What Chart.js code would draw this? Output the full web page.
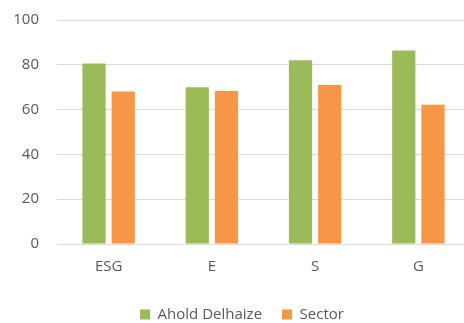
<!DOCTYPE html>
<html>
<head>
<meta charset="utf-8">
<script src="https://cdn.jsdelivr.net/npm/chart.js@4"></script>
<style>
  html, body { margin: 0; padding: 0; background: #fff; overflow: hidden; }
  #wrap { width: 484px; height: 323px; }
</style>
</head>
<body>
<div id="wrap"><canvas id="chart" width="484" height="323"></canvas></div>
<script>
// chart data
let categories = ['ESG', 'E', 'S', 'G'];
let aholdValues = [80.6, 70, 82, 86.4];
let sectorValues = [68.1, 68.3, 71, 62.2];
let seriesNames = ['Ahold Delhaize', 'Sector'];
let yTicks = [0, 20, 40, 60, 80, 100];

let textColor = '#595959';
let fontFamily = '"Open Sans", sans-serif';

let ctx = document.getElementById('chart').getContext('2d');
let chart = new Chart(ctx, {
  type: 'bar',
  data: {
    labels: categories,
    datasets: [{
      label: seriesNames[0],
      data: aholdValues,
      backgroundColor: '#9BBB59',
      categoryPercentage: 0.566,
      barPercentage: 0.795
    }, {
      label: seriesNames[1],
      data: sectorValues,
      backgroundColor: '#F79646',
      categoryPercentage: 0.566,
      barPercentage: 0.795
    }]
  },
  options: {
    responsive: false,
    animation: false,
    layout: {
      padding: { left: 14, right: 14, top: 0, bottom: -9 }
    },
    plugins: {
      tooltip: { enabled: false },
      legend: {
        position: 'bottom',
        labels: {
          boxWidth: 10,
          boxHeight: 10,
          padding: 20,
          color: textColor,
          font: { family: fontFamily, size: 15 }
        }
      }
    },
    scales: {
      x: {
        grid: { display: false },
        border: { display: false },
        afterFit: axis => { axis.height += 5; },
        ticks: {
          color: textColor,
          padding: 6,
          font: { family: fontFamily, size: 15 }
        }
      },
      y: {
        min: 0,
        max: 100,
        afterBuildTicks: axis => { axis.ticks = yTicks.map(v => ({ value: v })); },
        afterFit: axis => { axis.width = 43; axis.paddingTop = 20; },
        grid: { color: '#d9d9d9', lineWidth: 1, drawTicks: false },
        border: { display: false },
        ticks: {
          color: textColor,
          padding: 18,
          font: { family: fontFamily, size: 15 }
        }
      }
    }
  }
});
</script>
</body>
</html>
